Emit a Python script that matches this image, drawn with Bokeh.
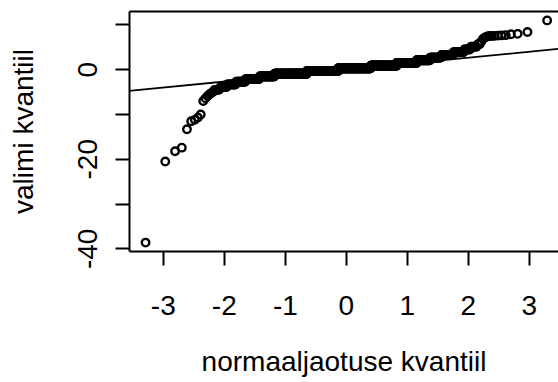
from statistics import NormalDist

import numpy as np
from bokeh.embed import file_html
from bokeh.models import FixedTicker, LinearAxis, Range1d, Slope
from bokeh.plotting import figure
from bokeh.resources import INLINE

# Sorted sample: the scattered lower values, the rounded bulk (value, count), the upper values
lower_tail = [-38.6, -20.5, -18.2, -17.4, -13.3, -11.5, -11.2, -10.7, -10.0,
              -7.0, -6.4, -5.9, -5.5, -5.2, -4.9]
level_values = [-4.5, -3.9, -3.3, -2.7, -2.1, -1.5, -0.9, -0.3, 0.3, 0.9,
                1.5, 2.1, 2.7, 3.3, 3.9, 4.5, 5.1, 5.7, 6.3, 6.9]
level_counts = [4, 6, 10, 14, 28, 42, 140, 187, 209, 140,
                80, 40, 25, 20, 13, 6, 5, 2, 1, 1]
upper_tail = [7.2, 7.4, 7.5, 7.5, 7.55, 7.6, 7.65, 7.7, 7.9, 8.0, 8.4, 11.0]

x_ticks = [-3, -2, -1, 0, 1, 2, 3]
x_tick_labels = {-3: "-3", -2: "-2", -1: "-1", 0: "0", 1: "1", 2: "2", 3: "3"}
y_ticks = [-40, -30, -20, -10, 0, 10]
y_tick_labels = {-40: "-40", -30: "", -20: "-20", -10: "", 0: "0", 10: ""}

FONT = "Liberation Sans"

sample = np.sort(np.concatenate([
    np.asarray(lower_tail, dtype=float),
    np.repeat(np.asarray(level_values, dtype=float), level_counts),
    np.asarray(upper_tail, dtype=float),
]))
n = len(sample)
nd = NormalDist()
probs = (np.arange(1, n + 1) - 0.5) / n
theoretical = np.array([nd.inv_cdf(pr) for pr in probs])

# reference line through the first and third quartiles
q1, q3 = np.quantile(sample, [0.25, 0.75])
z1, z3 = nd.inv_cdf(0.25), nd.inv_cdf(0.75)
gradient = (q3 - q1) / (z3 - z1)
intercept = q1 - gradient * z1

# axis limits padded by 4% of the data range
xpad = 0.04 * (theoretical.max() - theoretical.min())
ypad = 0.04 * (sample.max() - sample.min())
x_start = theoretical.min() - xpad
x_full = (theoretical.max() + xpad) - x_start
x_end = x_start + x_full * 429.0 / 433.7  # right part of the panel lies outside the page
y_start, y_end = sample.min() - ypad, sample.max() + ypad

p = figure(width=558, height=382, output_backend="svg", toolbar_location=None,
           x_range=Range1d(x_start, x_end), y_range=Range1d(y_start, y_end),
           min_border_left=129, min_border_right=0, min_border_top=11,
           min_border_bottom=131,
           x_axis_label="normaaljaotuse kvantiil", y_axis_label="valimi kvantiil")
p.outline_line_color = None
p.grid.visible = False
p.background_fill_color = "white"
p.border_fill_color = "white"

for ax in list(p.xaxis) + list(p.yaxis):
    ax.axis_line_width = 2
    ax.axis_line_color = "black"
    ax.major_tick_line_width = 2
    ax.major_tick_line_color = "black"
    ax.major_tick_out = 14
    ax.major_tick_in = 0
    ax.minor_tick_out = 0
    ax.minor_tick_in = 0
    ax.major_label_text_font = FONT
    ax.major_label_text_font_size = "28px"
    ax.major_label_text_color = "black"
    ax.axis_label_text_font = FONT
    ax.axis_label_text_font_size = "28px"
    ax.axis_label_text_font_style = "normal"
    ax.axis_label_text_color = "black"

p.xaxis.ticker = FixedTicker(ticks=x_ticks)
p.xaxis.major_label_overrides = x_tick_labels
p.xaxis.major_label_standoff = 30
p.xaxis.axis_label_standoff = 28

p.yaxis.ticker = FixedTicker(ticks=y_ticks)
p.yaxis.major_label_overrides = y_tick_labels
p.yaxis.major_label_orientation = "vertical"
p.yaxis.major_label_standoff = 18
p.yaxis.axis_label_standoff = 37

# top edge of the box
top = LinearAxis(ticker=FixedTicker(ticks=[]), axis_line_width=2,
                 axis_line_color="black", major_tick_out=0, major_tick_in=0,
                 minor_tick_out=0, minor_tick_in=0,
                 major_label_text_font_size="0px")
p.add_layout(top, "above")

p.scatter(theoretical, sample, marker="circle", size=7.5, fill_color=None,
          line_color="black", line_width=2.4)
p.add_layout(Slope(gradient=gradient, y_intercept=intercept,
                   line_color="black", line_width=1.8))

open("out.html", "w").write(file_html(p, INLINE))
